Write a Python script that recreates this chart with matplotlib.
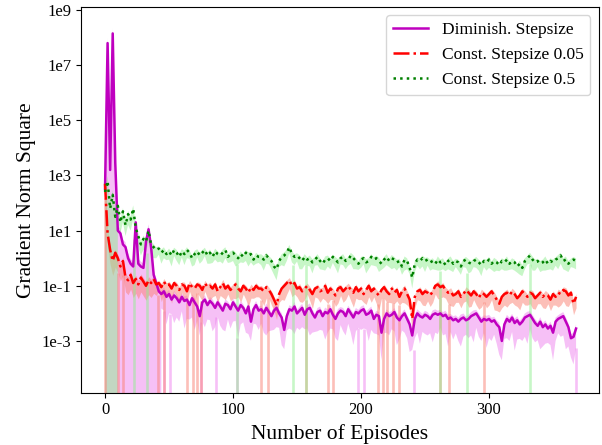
import numpy as np
import matplotlib
matplotlib.use('Agg')
import matplotlib.pyplot as plt
from matplotlib.ticker import NullLocator

plt.rcParams['font.family'] = ['Liberation Serif', 'DejaVu Serif']

# ---------------- data (log10 of gradient norm square, every 2 episodes) -------------
episodes = np.arange(0, 370, 2)

dimin_log = [
    2.5, 7.8, 3.2, 8.15, 3.45, 1.0, 0.9, 0.5, 0.4, 0.0,
    -0.2, -0.3, 1.3, -0.2, -0.3, -0.35, 0.6, 1.05, 0.4, -0.6,
    -0.9,
    -1.2, -1.3, -1.2, -1.4, -1.3, -1.5, -1.35, -1.45, -1.6, -1.4,
    -1.55, -1.5, -1.7, -1.45, -1.6, -1.75, -2.1, -1.6, -1.5, -1.7,
    -1.55, -1.65, -1.8, -1.6, -1.75, -1.9, -1.65, -1.7, -1.85, -1.6,
    -1.75, -1.9, -1.7, -1.8, -2.0, -1.75, -2.3, -1.85, -1.7, -1.9,
    -1.85, -2.0, -1.8, -1.95, -2.1, -1.9, -1.8, -2.0, -2.15, -2.6,
    -2.1, -1.85, -1.9, -1.75, -2.0, -1.9, -1.8, -2.05, -1.85, -1.8,
    -2.0, -2.15, -1.95, -1.9, -2.1, -1.95, -2.0, -1.85, -2.05, -2.2,
    -2.0, -1.9, -1.95, -2.1, -1.85, -2.0, -2.15, -1.95, -2.0, -1.9,
    -1.85, -2.05, -2.0, -1.9, -2.2, -2.05, -2.1, -2.7, -2.2, -2.0,
    -2.1, -2.05, -1.95, -2.15, -2.25, -2.1, -2.0, -2.2, -2.4, -2.8,
    -2.2, -2.0, -2.1, -2.15, -2.05,
    -2.1, -2.2, -2.05, -2.0, -2.05, -2.0, -2.1, -2.05, -2.2, -2.15,
    -2.25, -2.2, -2.3, -2.2, -2.15, -2.25, -2.2, -2.1, -2.05, -2.0,
    -2.15, -2.3, -2.2, -2.25, -2.2, -2.3, -2.25, -2.4, -2.5, -3.0,
    -2.4, -2.2, -2.3, -2.15, -2.35, -2.25, -2.4, -2.3, -2.15, -2.1,
    -2.05, -2.2, -2.35, -2.45, -2.3, -2.5, -2.4, -2.55, -2.45, -2.7,
    -2.3, -2.2, -2.15, -2.1, -2.3, -2.5, -2.9, -2.85, -2.55,
]

c005_log = [
    2.7, 0.9, 0.3, -0.1, 0.2, 0.0, -0.3, -0.1, -0.7, -0.8,
    -0.6, -0.9, -0.75, -0.95, -0.7, -0.85, -1.0, -0.8, -0.9, -0.75,
    -0.95,
    -0.9, -1.05, -0.85, -1.0, -0.95, -1.1, -0.9, -1.0, -1.15, -0.95,
    -1.0, -1.2, -0.9, -1.05, -1.1, -0.95, -1.0, -1.15, -0.9, -1.05,
    -1.0, -1.1, -0.95, -1.2, -1.05, -0.9, -1.1, -1.0, -1.15, -1.05,
    -0.95, -1.1, -1.2, -1.0, -1.1, -1.25, -1.05, -1.15, -1.0, -1.1,
    -1.1, -1.2, -1.05, -1.15, -1.3, -1.5, -1.7, -1.3, -1.1, -1.0,
    -0.9, -0.8, -1.0, -0.9, -1.1, -1.05, -1.2, -1.1, -1.0, -1.15,
    -1.3, -1.1, -1.05, -1.2, -1.15, -1.0, -1.25, -1.1, -1.2, -1.35,
    -1.1, -1.05, -1.2, -1.1, -1.0, -1.15, -1.25, -1.05, -1.2, -1.1,
    -1.3, -1.15, -1.0, -1.2, -1.1, -1.25, -1.35, -1.15, -1.05, -1.2,
    -1.3, -1.1, -1.25, -1.15, -1.4, -1.2, -1.1, -1.3, -1.5, -2.2,
    -1.4, -1.2, -1.15, -1.3, -1.2,
    -1.25, -1.35, -1.2, -1.0, -0.95, -1.05, -1.0, -1.15, -1.25, -1.2,
    -1.35, -1.3, -1.2, -1.4, -1.3, -1.15, -1.25, -1.35, -1.2, -1.3,
    -1.45, -1.25, -1.3, -1.4, -1.3, -1.2, -1.35, -1.5, -1.65, -1.4,
    -1.3, -1.25, -1.35, -1.2, -1.3, -1.45, -1.35, -1.2, -1.3, -1.4,
    -1.25, -1.3, -1.45, -1.35, -1.25, -1.4, -1.3, -1.35, -1.5, -1.3,
    -1.4, -1.25, -1.3, -1.15, -1.2, -1.35, -1.25, -1.65, -1.4,
]

c05_log = [
    2.4, 2.8, 1.8, 2.3, 1.5, 1.9, 1.3, 1.7, 1.2, 1.6,
    1.4, 1.8, 1.1, 0.8, 0.5, 0.7, 0.6, 1.0, 0.5, 0.4,
    0.3,
    0.35, 0.2, 0.3, 0.15, 0.25, 0.1, 0.3, 0.2, 0.05, 0.25,
    0.15, 0.3, 0.2, 0.0, 0.15, 0.25, 0.1, 0.2, 0.3, 0.1,
    0.2, 0.05, 0.25, 0.15, 0.1, 0.2, 0.3, 0.05, 0.15, 0.2,
    0.1, 0.0, 0.15, 0.05, 0.2, 0.1, 0.15, -0.05, 0.1, 0.05,
    0.05, -0.05, 0.1, 0.0, -0.1, -0.3, -0.4, -0.1, 0.05, 0.1,
    0.2, 0.4, 0.15, 0.05, 0.1, 0.0, -0.1, 0.05, -0.05, 0.0,
    -0.15, -0.05, 0.05, -0.1, -0.2, -0.05, 0.0, -0.1, 0.05, -0.05,
    -0.15, 0.0, 0.05, -0.1, -0.05, 0.1, 0.0, -0.1, -0.2, -0.05,
    0.0, -0.15, -0.1, 0.05, -0.05, 0.0, -0.1, -0.2, -0.05, 0.05,
    -0.1, 0.0, -0.05, -0.15, -0.1, -0.3, -0.05, -0.1, -0.35, -0.7,
    -0.2, -0.05, -0.1, 0.0, -0.1,
    -0.05, -0.15, -0.1, -0.2, -0.05, -0.15, -0.1, -0.25, -0.1, -0.05,
    -0.2, -0.1, -0.15, -0.3, -0.1, -0.05, -0.15, -0.2, -0.1, -0.05,
    -0.15, -0.25, -0.1, -0.15, -0.05, -0.2, -0.1, -0.15, -0.25, -0.1,
    -0.15, -0.05, -0.2, -0.1, -0.15, -0.3, -0.2, -0.35, -0.1, 0.0,
    0.1, -0.05, -0.15, -0.1, -0.2, -0.15, -0.05, -0.2, -0.1, -0.15,
    -0.05, 0.0, 0.1, -0.1, -0.05, -0.2, -0.1, -0.05, -0.1,
]

# relative spread of the runs (std / mean, in tenths)
dimin_spread = [
    9, 9, 9, 9, 9, 9, 9, 9, 9, 9, 9, 9, 9, 9, 9, 9, 9, 9, 9, 9,
    8, 9, 7, 8, 9, 8, 7, 9, 8, 8, 7, 9, 8, 7, 8, 9, 7, 8, 8, 9,
    7, 8, 9, 8, 7, 8, 8, 9, 7, 8, 8, 7, 9, 8, 7, 8, 9, 8, 7, 8,
    8, 7, 8, 9, 8, 7, 8, 8, 7, 9, 8, 7, 8, 8, 9, 7, 8, 8, 7, 8,
    9, 8, 7, 8, 8, 7, 9, 8, 8, 7, 8, 9, 7, 8, 8, 7, 8, 9, 8, 7,
    8, 8, 7, 9, 8, 7, 8, 8, 9, 7, 8, 8, 7, 8, 9, 8, 7, 8, 8, 9,
    7, 8, 8, 9, 7, 8, 8, 7, 9, 8, 8, 7, 8, 8, 9, 7, 8, 7, 8, 9,
    8, 7, 8, 8, 9, 7, 8, 8, 7, 9, 8, 8, 7, 8, 9, 8, 7, 8, 8, 7,
    9, 8, 7, 8, 8, 9, 7, 8, 8, 7, 9, 8, 8, 7, 8, 9, 8, 7, 8, 8,
    9, 8, 8, 9, 8,
]
c005_spread = [
    7, 7, 7, 7, 7, 7, 7, 7, 7, 7, 7, 7, 7, 7, 7, 7, 7, 7, 7, 7,
    6, 5, 7, 6, 5, 6, 7, 5, 6, 6, 5, 7, 6, 5, 6, 7, 5, 6, 6, 5,
    6, 7, 5, 6, 6, 5, 7, 6, 5, 6, 6, 7, 5, 6, 5, 6, 7, 6, 5, 6,
    5, 6, 7, 6, 5, 6, 6, 7, 5, 6, 7, 6, 5, 6, 6, 5, 7, 6, 6, 5,
    6, 7, 5, 6, 6, 5, 7, 6, 6, 5, 6, 7, 5, 6, 6, 5, 6, 7, 6, 5,
    6, 5, 7, 6, 6, 5, 6, 7, 5, 6, 6, 5, 7, 6, 6, 5, 6, 7, 6, 5,
    7, 6, 5, 6, 6, 7, 5, 6, 6, 5, 7, 6, 6, 5, 6, 7, 6, 5, 6, 6,
    5, 6, 7, 6, 5, 6, 6, 7, 5, 6, 6, 5, 7, 6, 5, 6, 6, 7, 5, 6,
    6, 5, 7, 6, 6, 5, 6, 7, 6, 5, 6, 6, 7, 5, 6, 6, 5, 7, 6, 6,
    7, 6, 5, 6, 6,
]
c05_spread = [
    6, 6, 6, 6, 6, 6, 6, 6, 6, 6, 6, 6, 6, 6, 6, 6, 6, 6, 6, 6,
    5, 4, 6, 5, 4, 5, 6, 4, 5, 5, 4, 6, 5, 4, 5, 6, 4, 5, 5, 4,
    5, 6, 4, 5, 5, 4, 6, 5, 4, 5, 5, 6, 4, 5, 4, 5, 6, 5, 4, 5,
    4, 5, 6, 5, 4, 5, 5, 6, 4, 5, 6, 5, 4, 5, 5, 4, 6, 5, 5, 4,
    5, 6, 4, 5, 5, 4, 6, 5, 5, 4, 5, 6, 4, 5, 5, 4, 5, 6, 5, 4,
    5, 4, 6, 5, 5, 4, 5, 6, 4, 5, 5, 4, 6, 5, 5, 4, 5, 6, 5, 4,
    6, 5, 4, 5, 5, 6, 4, 5, 5, 4, 6, 5, 5, 4, 5, 6, 5, 4, 5, 5,
    4, 5, 6, 5, 4, 5, 5, 6, 4, 5, 5, 4, 6, 5, 4, 5, 5, 6, 4, 5,
    5, 4, 6, 5, 5, 4, 5, 6, 5, 4, 5, 5, 6, 4, 5, 5, 4, 6, 5, 5,
    6, 5, 4, 5, 5,
]

# early stretches where the band's lower edge is <= 0 (episodes)
dimin_full = [0, 2, 4, 6, 8, 10, 12, 14, 16, 18, 20, 22, 24, 26, 28,
              32, 34, 36, 40, 42]
c005_full = []
c05_full = [0, 2, 4, 6, 8]
# isolated episodes where the band's lower edge is <= 0
dimin_gaps = [46, 51, 75, 87, 103, 198, 202, 241, 368]
c005_gaps = [0, 10, 14, 41, 46, 64, 69, 72, 75, 122, 127, 157, 174, 178,
             213, 217, 220, 225, 230, 262, 269, 296]
c05_gaps = [23, 33, 103, 147, 157, 262, 283, 332]

labels = ['Diminish. Stepsize', 'Const. Stepsize 0.05', 'Const. Stepsize 0.5']
ytick_vals = [1e-3, 1e-1, 1e1, 1e3, 1e5, 1e7, 1e9]
ytick_labels = ['1e-3', '1e-1', '1e1', '1e3', '1e5', '1e7', '1e9']
xtick_vals = [0, 100, 200, 300]

# ---------------- figure ----------------
fig = plt.figure(figsize=(6.02, 4.45), dpi=100)
ax = fig.add_axes([0.1346, 0.1175, 0.8604, 0.8675])
ax.set_yscale('log')
ax.set_xlim(-18.75, 385.9)
ax.set_ylim(10 ** -4.876, 10 ** 9.12)
ybot = ax.get_ylim()[0]

series = [
    (dimin_log, dimin_spread, dimin_full, dimin_gaps, 'm', 'violet', '-'),
    (c005_log, c005_spread, c005_full, c005_gaps, 'r', 'salmon', '-.'),
    (c05_log, c05_spread, c05_full, c05_gaps, 'g', 'lightgreen', ':'),
]

n = len(episodes)
means = []
for logv, spread, full, gaps, lc, fc, ls in series:
    m = 10 ** np.array(logv, dtype=float)
    r = np.array(spread, dtype=float) / 10.0
    for e in full:
        r[e // 2] = 1.0
    upper = m * (1 + 0.5 * r)
    lower = m * (1 - r)
    ax.fill_between(episodes, lower, upper, color=fc, alpha=0.5, linewidth=0)
    gx = np.array(gaps, dtype=float)
    if len(gx):
        idx = np.clip(np.round(gx / 2).astype(int), 0, n - 1)
        top = np.maximum(lower[idx], ybot)
        ax.vlines(gx, ybot, top, colors=fc, alpha=0.5, linewidth=1.9)
    means.append(m)

for (logv, spread, full, gaps, lc, fc, ls), m, lab in zip(series, means, labels):
    ax.plot(episodes, m, color=lc, linestyle=ls, linewidth=1.8, label=lab)

ax.set_xlim(-18.75, 385.9)
ax.set_ylim(10 ** -4.876, 10 ** 9.12)
ax.set_yticks(ytick_vals)
ax.set_yticklabels(ytick_labels)
ax.yaxis.set_minor_locator(NullLocator())
ax.set_xticks(xtick_vals)
ax.tick_params(labelsize=12)

ax.set_xlabel('Number of Episodes', fontsize=15.5)
ax.set_ylabel('Gradient Norm Square', fontsize=15.5)
ax.legend(loc='upper right', fontsize=12.5)

fig.savefig('out.png', dpi=100)
